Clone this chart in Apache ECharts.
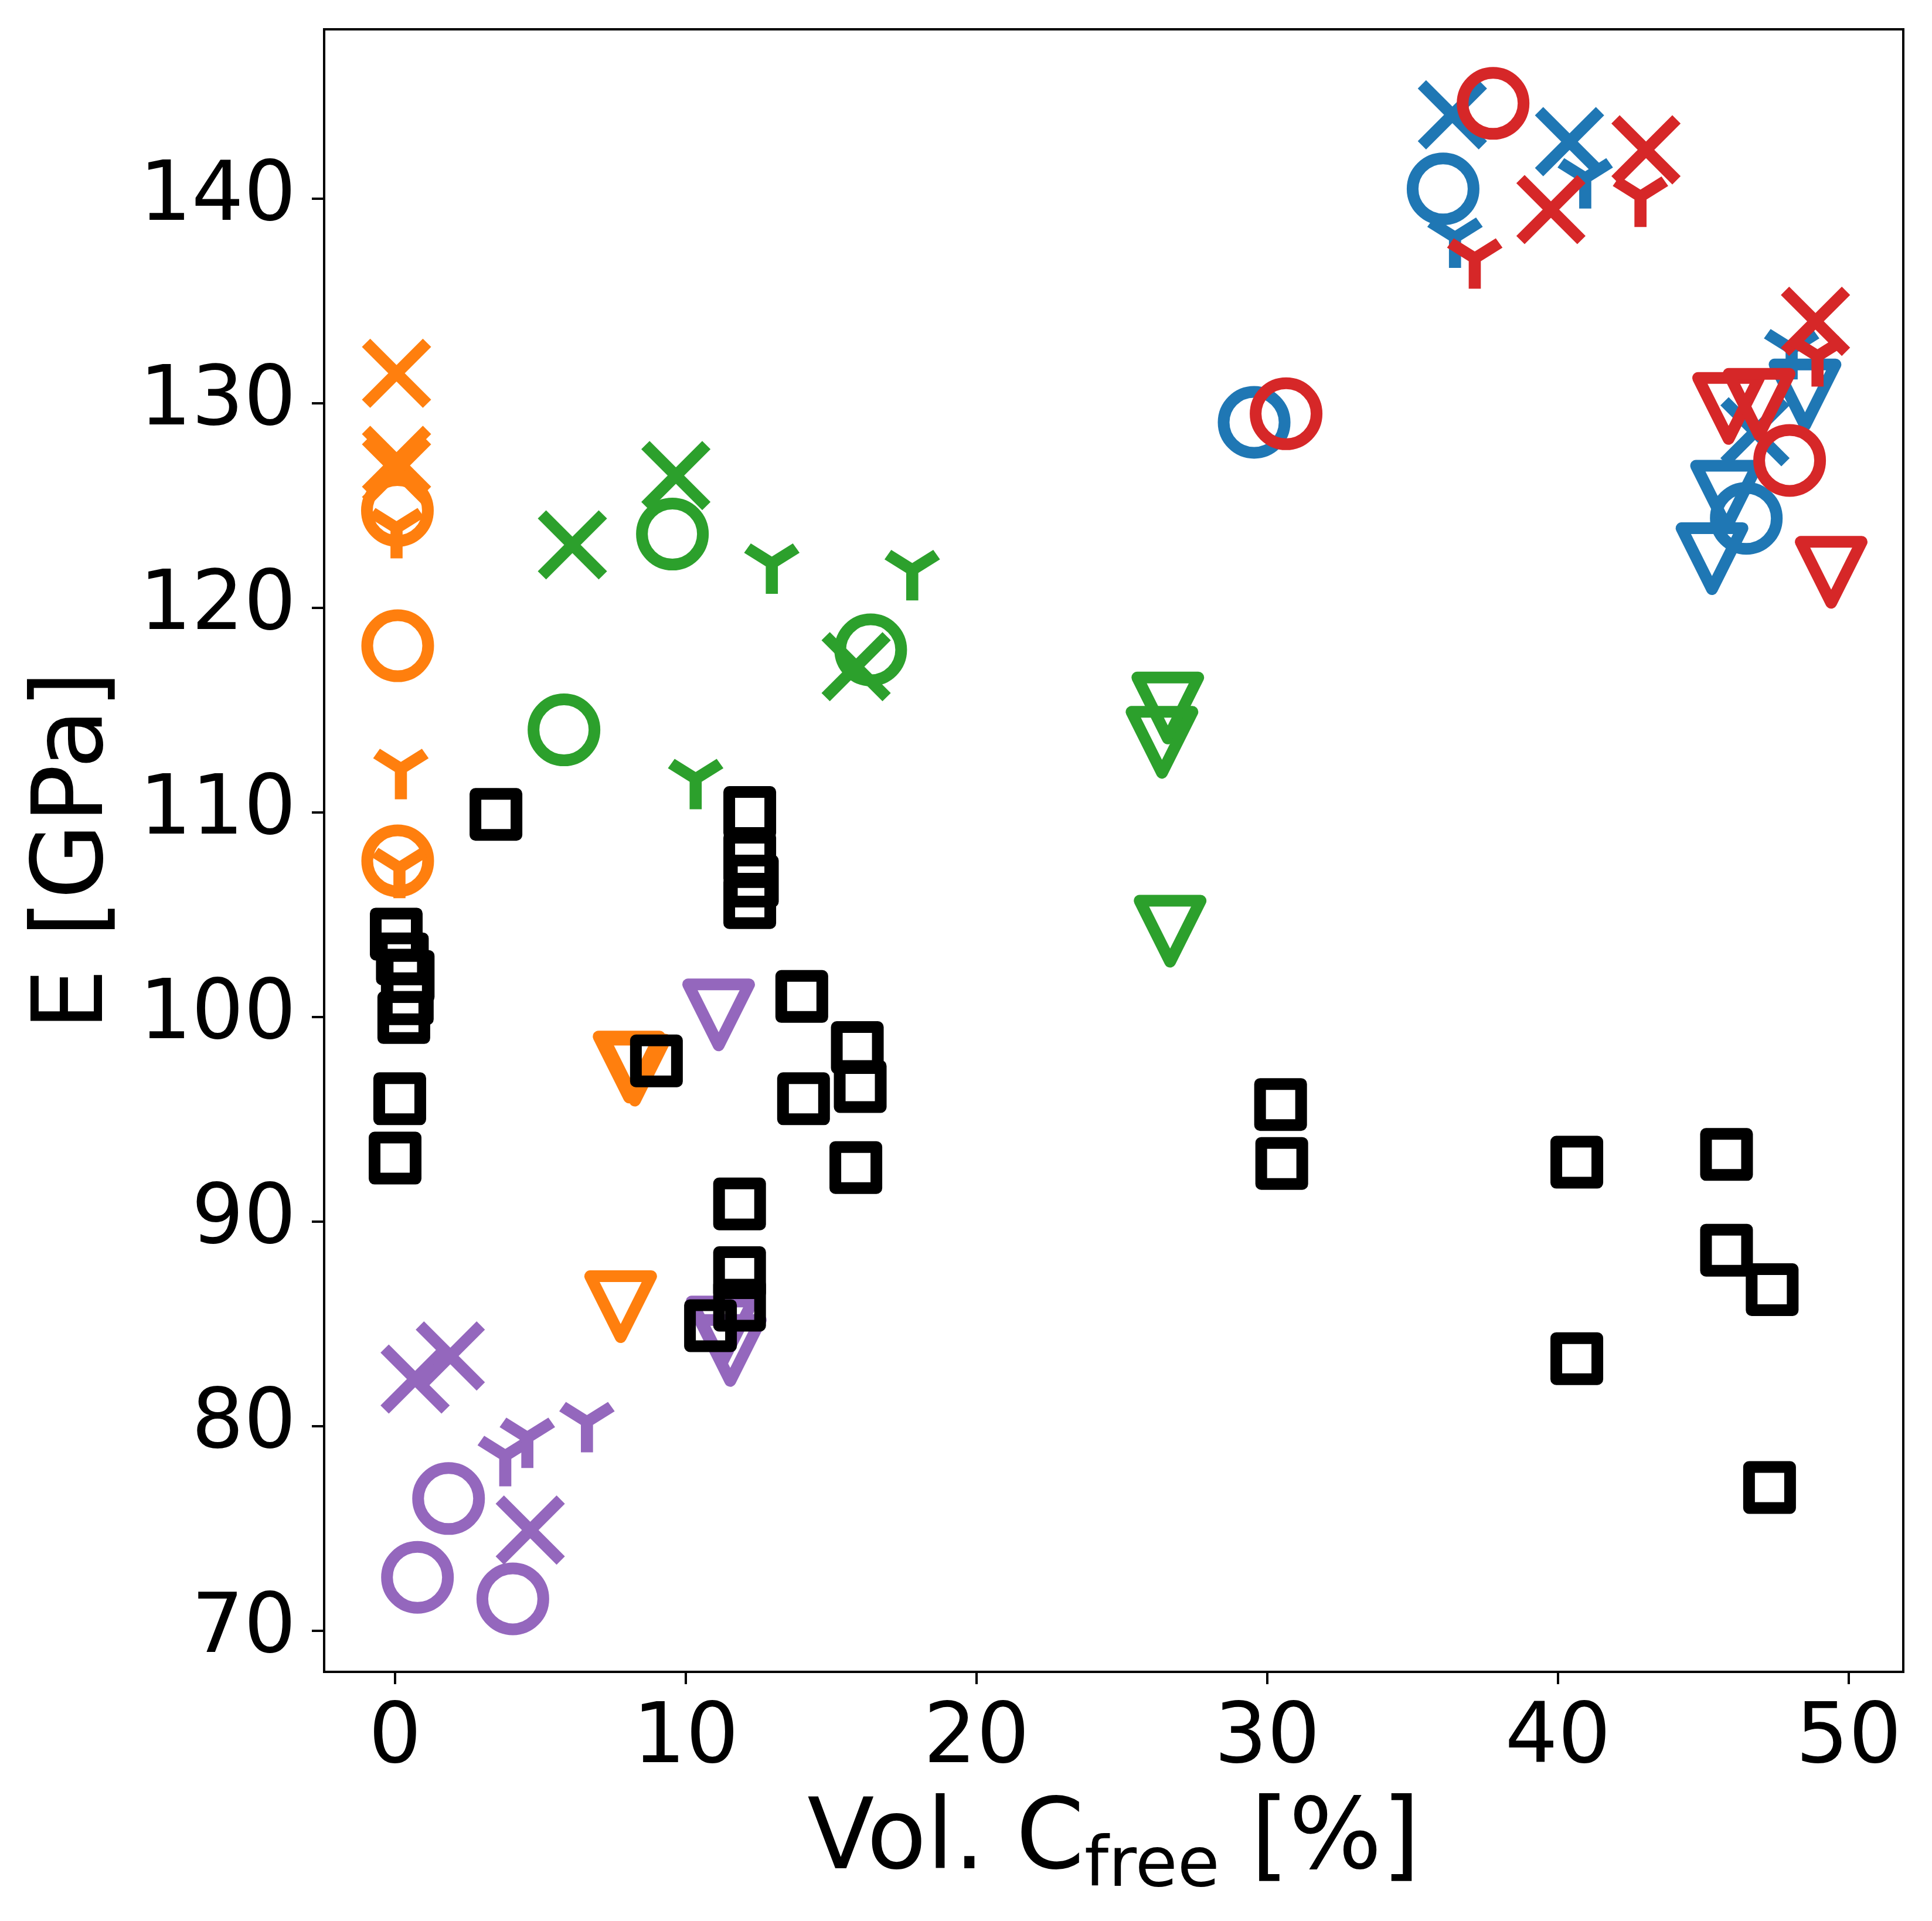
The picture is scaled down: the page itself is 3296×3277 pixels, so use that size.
<!DOCTYPE html>
<html>
<head>
<meta charset="utf-8">
<script src="https://cdn.jsdelivr.net/npm/echarts@6/dist/echarts.min.js"></script>
<style>
html, body { margin: 0; padding: 0; background: #fff; }
#main { width: 3296px; height: 3277px; }
</style>
</head>
<body>
<div id="main"></div>
<script>
var xTicks = [0, 10, 20, 30, 40, 50];
var yTicks = [70, 80, 90, 100, 110, 120, 130, 140];

// [Vol. C_free %, E GPa]
var blueCircle = [[36.05, 140.47], [29.55, 129.06], [46.48, 124.37]];
var blueCross = [[36.37, 144.09], [40.40, 142.78], [46.78, 128.6]];
var blueTri = [[36.46, 138.1], [40.94, 141.0], [48.04, 132.65]];
var blueVee = [[48.5, 130.4], [45.8, 125.45], [45.3, 122.4]];

var orangeCircle = [[0.08, 124.75], [0.09, 118.14], [0.09, 107.63]];
var orangeCross = [[0.05, 131.46], [0.05, 127.2], [0.05, 126.7]];
var orangeTri = [[0.05, 123.9], [0.2, 112.13], [0.15, 107.29]];
var orangeVee = [[8.05, 97.55], [8.25, 97.4], [7.76, 85.84]];

var greenCircle = [[9.54, 123.6], [16.36, 117.94], [5.81, 114.03]];
var greenCross = [[6.10, 123.07], [9.66, 126.46], [15.86, 117.12]];
var greenTri = [[12.96, 122.17], [17.79, 121.85], [10.34, 111.64]];
var greenVee = [[26.58, 115.1], [26.38, 113.42], [26.66, 104.19]];

var redCircle = [[37.77, 144.65], [30.65, 129.48], [47.97, 127.2]];
var redCross = [[43.03, 142.38], [39.76, 139.46], [48.86, 134.0]];
var redTri = [[37.14, 137.08], [42.84, 140.1], [48.93, 132.3]];
var redVee = [[45.87, 129.74], [46.92, 129.94], [49.40, 121.73]];

var purpleCircle = [[1.84, 76.46], [0.77, 72.61], [4.05, 71.56]];
var purpleCross = [[0.69, 82.3], [1.90, 83.43], [4.65, 74.92]];
var purpleTri = [[3.79, 78.55], [4.55, 79.44], [6.60, 80.21]];
var purpleVee = [[11.13, 100.1], [11.25, 84.6], [11.53, 83.7]];

var blackSquare = [
  [0.04, 104.05], [0.25, 102.84], [0.45, 101.98], [0.42, 100.89], [0.3, 99.97],
  [0.16, 96.0], [0.0, 93.1], [3.47, 109.9], [8.99, 97.85],
  [12.2, 109.99], [12.2, 107.76], [12.29, 106.64], [12.2, 105.59],
  [13.99, 101.0], [14.05, 96.0], [15.9, 98.5], [16.0, 96.6], [15.85, 92.64],
  [11.85, 90.86], [11.85, 87.5], [11.85, 85.91], [10.85, 84.91],
  [30.46, 95.72], [30.5, 92.84],
  [40.65, 92.9], [40.65, 83.3], [45.8, 93.28], [45.8, 88.6], [47.37, 86.67], [47.28, 77.0]
];

var BLUE = '#1f77b4', ORANGE = '#ff7f0e', GREEN = '#2ca02c', RED = '#d62728', PURPLE = '#9467bd';

// matplotlib-like marker shapes
var CROSS = 'path://M0,0L1,1M1,0L0,1';
var TRI_DOWN = 'path://M41.6,26L41.6,78M41.6,26L83.2,0M41.6,26L0,0';
var VEE = 'path://M0,0L2,0L1,2Z';

function marker(data, kind, color) {
  var s = {
    type: 'scatter',
    data: data,
    silent: true,
    itemStyle: {
      color: 'rgba(0,0,0,0)',
      borderColor: color,
      borderWidth: 20,
      borderJoin: 'round',
      borderCap: 'butt',
      opacity: 1
    }
  };
  if (kind === 'o') { s.symbol = 'circle'; s.symbolSize = 104; }
  if (kind === 'x') { s.symbol = CROSS; s.symbolSize = 104; }
  if (kind === '1') { s.symbol = TRI_DOWN; s.symbolSize = [83.2, 78]; s.symbolOffset = [0, 13]; }
  if (kind === 'v') { s.symbol = VEE; s.symbolSize = 104; }
  if (kind === 's') { s.symbol = 'rect'; s.symbolSize = 70; }
  return s;
}

var series = [
  marker(blueCircle, 'o', BLUE), marker(blueCross, 'x', BLUE), marker(blueTri, '1', BLUE), marker(blueVee, 'v', BLUE),
  marker(orangeCircle, 'o', ORANGE), marker(orangeCross, 'x', ORANGE), marker(orangeTri, '1', ORANGE), marker(orangeVee, 'v', ORANGE),
  marker(greenCircle, 'o', GREEN), marker(greenCross, 'x', GREEN), marker(greenTri, '1', GREEN), marker(greenVee, 'v', GREEN),
  marker(redCircle, 'o', RED), marker(redCross, 'x', RED), marker(redTri, '1', RED), marker(redVee, 'v', RED),
  marker(purpleCircle, 'o', PURPLE), marker(purpleCross, 'x', PURPLE), marker(purpleTri, '1', PURPLE), marker(purpleVee, 'v', PURPLE),
  marker(blackSquare, 's', '#000')
];

var myChart = echarts.init(document.getElementById('main'), null, { renderer: 'canvas', devicePixelRatio: 1 });

var option = {
  animation: false,
  backgroundColor: '#fff',
  textStyle: { fontFamily: 'DejaVu Sans', color: '#000' },
  grid: {
    left: 553, right: 49, top: 50, bottom: 425,
    show: true, borderColor: '#000', borderWidth: 4, backgroundColor: 'rgba(0,0,0,0)'
  },
  xAxis: {
    type: 'value',
    min: -2.44,
    max: 51.88,
    name: '{a|Vol. C}{b|free}{a| [%]}',
    nameLocation: 'middle',
    nameGap: 190,
    nameTextStyle: {
      rich: {
        a: { fontSize: 167, fontFamily: 'DejaVu Sans', color: '#000' },
        b: { fontSize: 117, fontFamily: 'DejaVu Sans', color: '#000', padding: [86, 0, 0, 0] }
      }
    },
    axisLine: { show: true, onZero: false, lineStyle: { color: '#000', width: 4 } },
    axisTick: { show: true, length: 21, lineStyle: { color: '#000', width: 4 }, customValues: xTicks },
    axisLabel: { fontSize: 142, color: '#000', margin: 46, customValues: xTicks, fontFamily: 'DejaVu Sans' },
    splitLine: { show: false }
  },
  yAxis: {
    type: 'value',
    min: 67.99,
    max: 148.27,
    name: 'E [GPa]',
    nameLocation: 'middle',
    nameGap: 339,
    nameTextStyle: { fontSize: 167, color: '#000', fontFamily: 'DejaVu Sans' },
    axisLine: { show: true, onZero: false, lineStyle: { color: '#000', width: 4 } },
    axisTick: { show: true, length: 21, lineStyle: { color: '#000', width: 4 }, customValues: yTicks },
    axisLabel: { fontSize: 140, color: '#000', margin: 48, customValues: yTicks, fontFamily: 'DejaVu Sans' },
    splitLine: { show: false }
  },
  series: series
};

myChart.setOption(option);
</script>
</body>
</html>
